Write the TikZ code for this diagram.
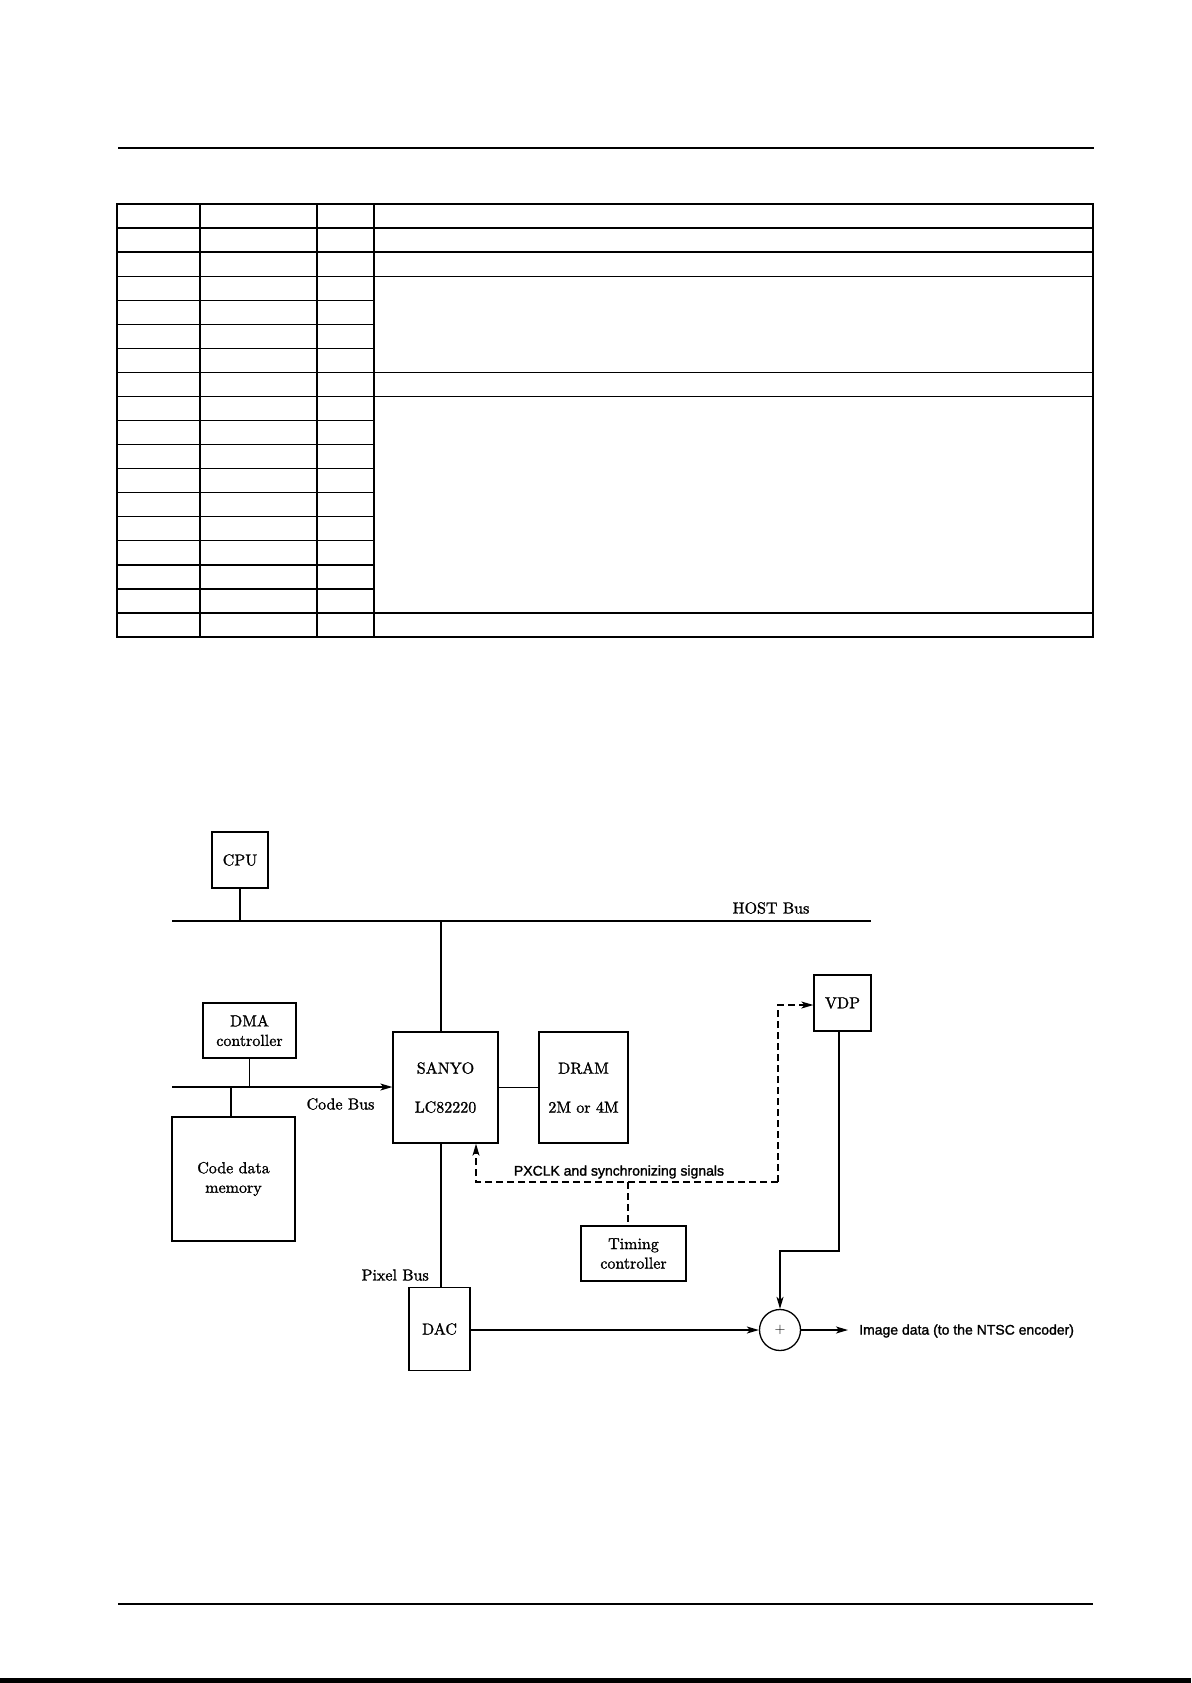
\documentclass[tikz,border=0pt]{standalone}
\usepackage{fontspec}
\setmainfont{lmroman10-regular}[Extension=.otf, FakeBold=1.3]
\newfontfamily\helv{Liberation Sans}[FakeBold=1.6]
\usetikzlibrary{arrows.meta,calc}
\newcommand\dgfont{\fontsize{16}{19.5}\selectfont}
\newcommand\dgwide{\fontsize{16}{39}\selectfont}
\newcommand\sansfnt{\helv\fontsize{14}{16}\selectfont}
\begin{document}
\begin{tikzpicture}[x=1pt,y=-1pt,
  tbl/.style={line width=1.3pt},
  box/.style={draw, line width=1.3pt, inner sep=0pt, align=center, font=\dgfont},
  ln/.style={line width=1.3pt},
  arr/.style={line width=1.3pt, -{Stealth[length=12pt,width=7pt,inset=3pt]}},
  dsh/.style={line width=1.3pt, dash pattern=on 7pt off 4pt},
  lbl/.style={inner sep=0pt, font=\dgfont}]
\useasboundingbox (0,0) rectangle (1191,1683);
% page rules
\draw[line width=2.4pt] (118,148) -- (1094,148);
\draw[line width=1.2pt] (118,1604) -- (1093,1604);
\fill (0,1678) rectangle (1191,1683);
% table
\def\ry#1{204+#1*24.06}
\draw[tbl] (117,204) rectangle (1093,{\ry{18}});
\foreach \xx in {200,317,374} \draw[tbl] (\xx,204) -- (\xx,{\ry{18}});
\foreach \k in {1,2,3,7,8,17} \draw[tbl] (117,{\ry{\k}}) -- (1093,{\ry{\k}});
\foreach \k in {4,5,6,9,10,11,12,13,14,15,16} \draw[tbl] (117,{\ry{\k}}) -- (374,{\ry{\k}});
% nodes
\node[box, minimum width=56pt, minimum height=56pt] (cpu) at (240,860) {CPU};
\node[box, minimum width=93pt, minimum height=55pt] (dma) at (249.5,1030.5) {DMA\\controller};
\node[box, minimum width=123pt, minimum height=124pt] (codemem) at (233.5,1179) {Code data\\memory};
\node[box, minimum width=105pt, minimum height=111pt, font=\dgwide] (sanyo) at (445.5,1087.5) {SANYO\\LC82220};
\node[box, minimum width=89pt, minimum height=111pt, font=\dgwide] (dram) at (583.5,1087.5) {DRAM\\2M or 4M};
\node[box, minimum width=57pt, minimum height=56pt] (vdp) at (842.5,1003) {VDP};
\node[box, minimum width=105pt, minimum height=55pt] (timing) at (633.5,1253.5) {Timing\\controller};
\node[box, minimum width=61pt, minimum height=83pt] (dac) at (439.5,1329) {DAC};
\node[draw, circle, line width=1.3pt, minimum size=41pt, inner sep=0pt] (adder) at (780,1330) {\fontsize{14}{14}\selectfont$+$};
% labels
\node[lbl] (hostlbl) at (771,908) {HOST Bus};
\node[lbl] (codelbl) at (340.5,1104) {Code Bus};
\node[lbl, anchor=east] (pixlbl) at (429,1275) {Pixel Bus};
\node[inner sep=0pt, font=\sansfnt] (pxclk) at (619,1172) {PXCLK and synchronizing signals};
\node[inner sep=0pt, font=\sansfnt, anchor=west] (outlbl) at (859,1331) {Image data (to the NTSC encoder)};
% host bus
\coordinate (hbL) at (172,921);
\coordinate (hbR) at (871,921);
\draw[ln] (hbL) -- (hbR);
\draw[ln] (cpu.south) -- (cpu.south |- hbL);
\coordinate (sx) at (441,921);
\draw[ln] (sx) -- (sx |- sanyo.north);
% code bus
\coordinate (cbL) at (172,1087);
\draw[arr] (cbL) -- (cbL -| sanyo.west);
\draw[ln] (dma.south) -- (dma.south |- cbL);
\coordinate (cmx) at (231,1087);
\draw[ln] (cmx) -- (cmx |- codemem.north);
% sanyo - dram
\draw[ln] (sanyo.east) -- (dram.west);
% pixel bus
\coordinate (px) at (441,1143);
\draw[ln] (px) -- (px |- dac.north);
% dac -> adder -> out
\draw[arr] (dac.east |- adder) -- (adder.west);
\coordinate (outend) at (848,1330);
\draw[arr] (adder.east) -- (outend);
% vdp -> adder
\coordinate (vx) at (839,1031);
\coordinate (vbend) at (839,1251);
\draw[arr] (vx) -- (vbend) -| (adder.north);
% dashed sync signals
\coordinate (d1) at (476,1182);
\coordinate (d2) at (778,1182);
\coordinate (d3) at (778,1005);
\coordinate (tx) at (628,1182);
\draw[dsh, -{Stealth[length=12pt,width=7pt,inset=3pt]}] (d2) -- (d1) -- (d1 |- sanyo.south);
\draw[dsh, -{Stealth[length=12pt,width=7pt,inset=3pt]}] (d2) -- (d3) -- (d3 -| vdp.west);
\draw[dsh] (tx) -- (tx |- timing.north);
\end{tikzpicture}
\end{document}
